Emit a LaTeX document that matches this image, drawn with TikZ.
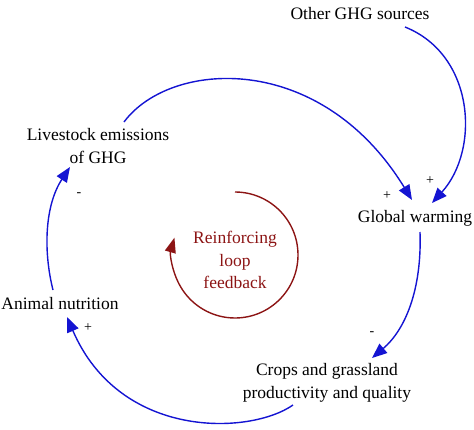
\documentclass[tikz,border=0pt]{standalone}
\usepackage{fontspec}
\setmainfont{Liberation Serif}
\usetikzlibrary{arrows.meta,calc}
\definecolor{linkblue}{RGB}{20,20,210}
\definecolor{loopred}{RGB}{140,20,20}
\tikzset{
  lbl/.style={font=\fontsize{17.5}{22.5}\selectfont, align=center, inner sep=0pt},
  sgn/.style={font=\fontsize{14}{15}\selectfont, inner sep=0pt},
  link/.style={draw=linkblue, line width=1.4pt, -{Triangle[length=15pt,width=12pt]}},
  loopc/.style={draw=loopred, line width=1.4pt, -{Triangle[length=15pt,width=11pt]}}
}
\begin{document}
\begin{tikzpicture}[x=1pt,y=-1pt]
\useasboundingbox (0,0) rectangle (474,429);
\node[lbl] (oth) at (360,14) {Other GHG sources};
\node[lbl] (live) at (98,146) {Livestock emissions\\of GHG};
\node[lbl] (gw) at (415,218) {Global warming};
\node[lbl] (an) at (60,304) {Animal nutrition};
\node[lbl] (crop) at (327,383) {Crops and grassland\\productivity and quality};
\node[lbl, text=loopred] (rl) at (235,260) {Reinforcing\\loop\\feedback};
\node[sgn] (s1) at (430,181) {+};
\node[sgn] (s2) at (387,196) {+};
\node[sgn] (s3) at (372,334) {-};
\node[sgn] (s4) at (88,328) {+};
\node[sgn] (s5) at (79,195) {-};
\draw[link] ($(oth)+(45,13)$) .. controls (475,55) and (480,150) .. ($(gw)+(17,-15)$);
\draw[link] ($(live)+(26,-24)$) .. controls (170,60) and (320,50) .. ($(gw)+(-3,-18)$);
\draw[link] ($(gw)+(5,14)$) .. controls (422,290) and (405,330) .. ($(crop)+(45,-25)$);
\draw[link] ($(crop)+(-34,22)$) .. controls (250,435) and (120,440) .. ($(an)+(7,13)$);
\draw[link] ($(an)+(-7,-14)$) .. controls (43,250) and (45,205) .. ($(live)+(-28,21)$);
\draw[loopc] ($(rl.center)+(0,-68)$) arc[start angle=-90,end angle=196,radius=63];
\end{tikzpicture}
\end{document}
